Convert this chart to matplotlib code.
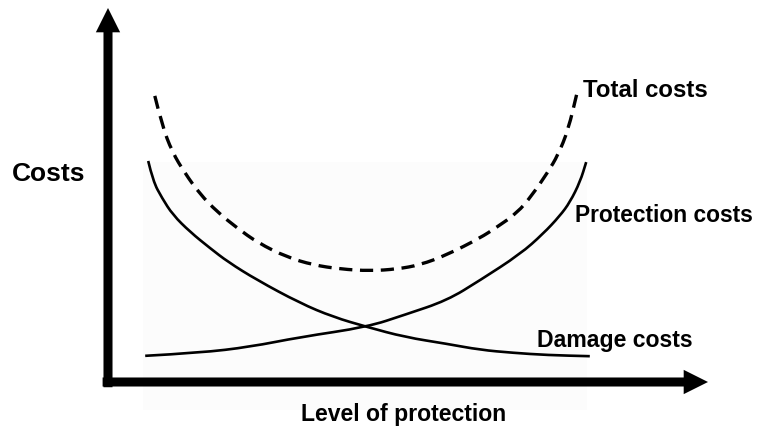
import matplotlib
matplotlib.use("Agg")
import matplotlib.pyplot as plt
from matplotlib.patches import Rectangle, PathPatch
from matplotlib.path import Path

plt.rcParams["font.family"] = ["Liberation Sans", "DejaVu Sans"]
plt.rcParams["lines.scale_dashes"] = False

# --- curve data (level of protection 0-100 vs cost 0-100) ---
damage_x = [6.7, 7.5, 9.0, 10.8, 13.7, 17.0, 20.0, 24.8, 32.0, 37.5, 43.2, 49.5,
            56.5, 62.0, 67.5, 73.2, 80.3]
damage_y = [59.1, 53.7, 49.2, 44.7, 40.1, 35.8, 32.1, 27.3, 21.1, 17.4, 14.7, 12.0,
            10.2, 8.6, 7.8, 7.2, 6.9]

protection_x = [6.2, 15.3, 23.7, 32.0, 43.2, 49.5, 56.5, 62.0, 68.7, 72.5, 75.3, 77.0,
                78.7, 79.7]
protection_y = [7.0, 7.8, 9.4, 12.0, 14.7, 18.0, 21.8, 27.2, 34.2, 39.6, 44.4, 48.1,
                53.6, 58.8]

total_x = [7.8, 9.0, 10.7, 12.8, 15.3, 18.2, 21.5, 25.0, 29.8, 34.2, 38.7, 43.7,
           48.2, 52.0, 56.5, 62.0, 64.8, 68.2, 70.7, 73.3, 75.0, 76.7, 78.2]
total_y = [76.5, 68.7, 61.5, 55.9, 50.3, 45.5, 41.2, 37.2, 33.4, 31.3, 30.2, 29.7,
           30.2, 31.3, 34.0, 38.5, 41.4, 45.2, 50.0, 56.1, 60.7, 67.4, 77.5]

# --- style ---
W, H, DPI = 759, 432, 100
INK = "black"


def smooth_path(xs, ys):
    """Quadratic bezier through midpoints so the hand-read points don't show corners."""
    pts = list(zip(xs, ys))
    verts = [pts[0]]
    codes = [Path.MOVETO]
    for i in range(1, len(pts) - 1):
        mid = ((pts[i][0] + pts[i + 1][0]) / 2, (pts[i][1] + pts[i + 1][1]) / 2)
        verts += [pts[i], mid]
        codes += [Path.CURVE3, Path.CURVE3]
    verts.append(pts[-1])
    codes.append(Path.LINETO)
    return Path(verts, codes)


fig = plt.figure(figsize=(W / DPI, H / DPI), dpi=DPI, facecolor="white")
# axes corner sits at pixel (108, 382), arrow tips at x=708 / y=8
ax = fig.add_axes([108 / W, (H - 382) / H, 600 / W, 374 / H])
ax.set_xlim(0, 100)
ax.set_ylim(0, 100)
ax.axis("off")

# very faint grey panel behind the curves
ax.add_patch(Rectangle((5.8, -7.5), 74.0, 66.3, facecolor="#fcfcfc",
                       edgecolor="none", zorder=0, clip_on=False))

# axis arrows
arrow = dict(width=6.5, headwidth=17.5, headlength=17.5, shrink=0.0,
             facecolor=INK, edgecolor=INK, linewidth=0)
ax.annotate("", xy=(0, 100), xytext=(0, -1.4), arrowprops=arrow,
            annotation_clip=False)
ax.annotate("", xy=(100, 0), xytext=(-0.9, 0), arrowprops=arrow,
            annotation_clip=False)

for xs, ys in [(damage_x, damage_y), (protection_x, protection_y)]:
    ax.add_patch(PathPatch(smooth_path(xs, ys), fill=False, edgecolor=INK,
                           lw=1.9, capstyle="butt", clip_on=False, zorder=3))
dashed = PathPatch(smooth_path(total_x, total_y), fill=False, edgecolor=INK,
                   lw=2.4, capstyle="butt", clip_on=False, zorder=3)
dashed.set_linestyle((0, (9.5, 5.5)))
ax.add_patch(dashed)

# labels (pixel placement -> figure fractions)
def label(px, py, s, size):
    fig.text(px / W, 1 - py / H, s, ha="left", va="baseline",
             fontsize=size, fontweight="bold", color=INK)

label(12, 181, "Costs", 19)
label(583, 97, "Total costs", 17.3)
label(575, 222, "Protection costs", 16.4)
label(537, 347, "Damage costs", 16.6)
label(301, 421, "Level of protection", 16.6)

fig.savefig("out.png", dpi=DPI, facecolor="white")
